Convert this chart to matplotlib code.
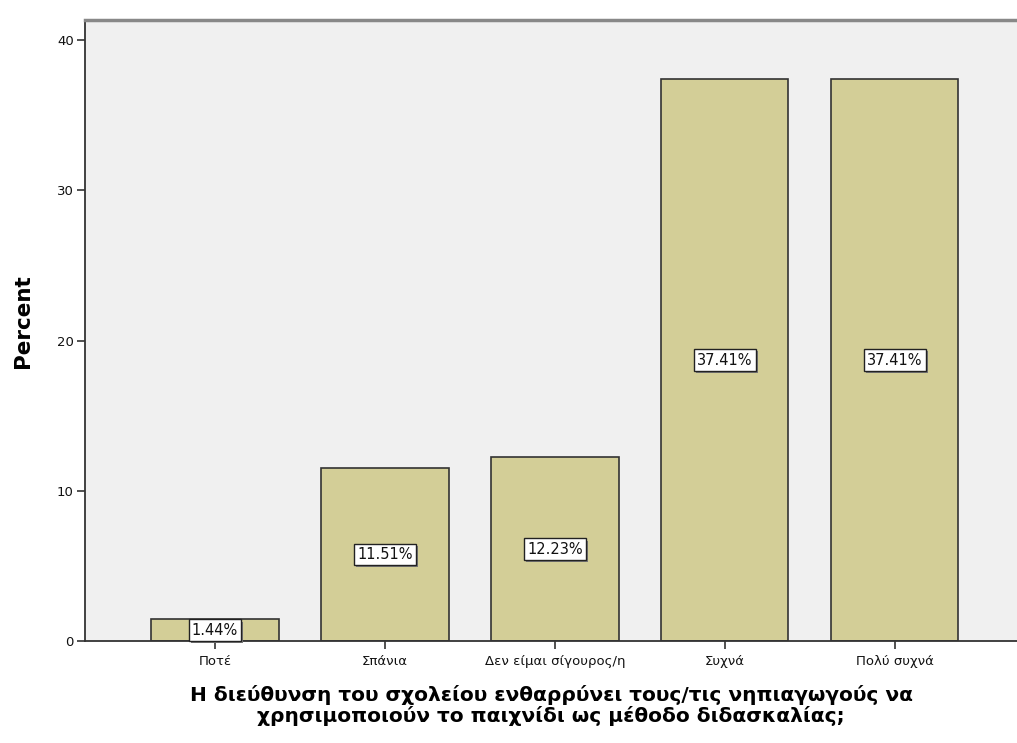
import matplotlib
matplotlib.use("Agg")
import matplotlib.pyplot as plt
import matplotlib.patheffects as pe

categories = ["Ποτέ", "Σπάνια", "Δεν είμαι σίγουρος/η", "Συχνά", "Πολύ συχνά"]
percents = [1.44, 11.51, 12.23, 37.41, 37.41]
y_ticks = [0, 10, 20, 30, 40]
x_title = ("Η διεύθυνση του σχολείου ενθαρρύνει τους/τις νηπιαγωγούς να\n"
           "χρησιμοποιούν το παιχνίδι ως μέθοδο διδασκαλίας;")

plt.rcParams["font.family"] = ["DejaVu Sans"]

fig = plt.figure(figsize=(10.17, 7.43), dpi=100)
ax = fig.add_axes([85 / 1017, 102 / 743, 1 - 85 / 1017, 621 / 743])
ax.set_facecolor("#F0F0F0")

x = list(range(len(categories)))
ax.bar(x, percents, width=0.75, color="#D3CE97", edgecolor="#333333", linewidth=1.2, zorder=2)

# value boxes in the middle of each bar, with a small drop shadow
for xi, v in zip(x, percents):
    t = ax.text(xi, v / 2, f"{v:.2f}%", ha="center", va="center", fontsize=10.5,
                color="#111111", zorder=4,
                bbox=dict(boxstyle="square,pad=0.22", fc="white", ec="#222222", lw=1.0))
    t.get_bbox_patch().set_path_effects([
        pe.withSimplePatchShadow(offset=(1.5, -1.5), shadow_rgbFace="#777777", alpha=1.0)
    ])

ax.set_xlim(-0.765, 4.72)
ax.set_ylim(0, 41.35)
ax.set_yticks(y_ticks)
ax.set_xticks(x)
ax.set_xticklabels(categories)
ax.tick_params(axis="both", direction="out", length=6, width=1.2, color="#333333",
               labelsize=9.5, labelcolor="#111111")
ax.tick_params(axis="x", pad=4)
ax.tick_params(axis="y", pad=2)

for side in ["left", "bottom"]:
    ax.spines[side].set_color("#333333")
    ax.spines[side].set_linewidth(1.3)
ax.spines["right"].set_visible(False)
ax.spines["top"].set_color("#888888")
ax.spines["top"].set_linewidth(2.5)

ax.set_ylabel("Percent", fontsize=15.5, fontweight="bold")
ax.yaxis.set_label_coords(-0.056, 0.515)
ax.set_xlabel(x_title, fontsize=14.5, fontweight="bold", labelpad=12, linespacing=1.1)

fig.savefig("out.png", dpi=100, facecolor="white")
